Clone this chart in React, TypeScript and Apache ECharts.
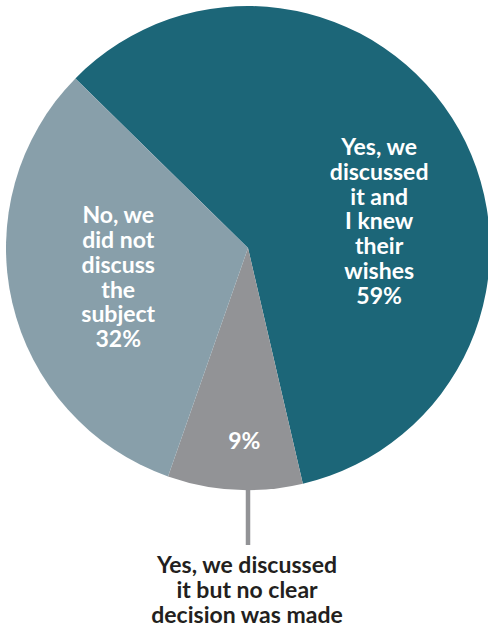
import React, { useEffect, useRef } from "react";
import * as echarts from "echarts";

const categories = [
  "Yes, we discussed it and I knew their wishes",
  "Yes, we discussed it but no clear decision was made",
  "No, we did not discuss the subject",
];
const values = [59, 9, 32];
const insideLabels = [
  "Yes, we\ndiscussed\nit and\nI knew\ntheir\nwishes",
  "",
  "No, we\ndid not\ndiscuss\nthe\nsubject",
];
const outsideLabel = "Yes, we discussed\nit but no clear\ndecision was made";
const colors = ["#1c6678", "#929396", "#889faa"];
const labelOffsets: [number, number][] = [
  [23, 33],
  [3, 68],
  [-9, 0],
];

export default function App() {
  const ref = useRef<HTMLDivElement>(null);
  useEffect(() => {
    if (!ref.current) return;
    const chart = echarts.init(ref.current, null, { renderer: "svg" });
    chart.setOption({
      animation: false,
      backgroundColor: "#ffffff",
      series: [
        {
          type: "pie",
          center: [248, 248],
          radius: 242,
          startAngle: 135.5,
          clockwise: true,
          silent: true,
          itemStyle: { borderWidth: 0 },
          label: {
            show: true,
            position: "inside",
            color: "#ffffff",
            fontFamily: "Lato",
            fontWeight: "bold",
            fontSize: 23,
            lineHeight: 24.8,
            align: "center",
          },
          labelLine: { show: false },
          data: categories.map((name, i) => ({
            name,
            value: values[i],
            itemStyle: { color: colors[i] },
            label: {
              offset: labelOffsets[i],
              formatter: () =>
                (insideLabels[i] ? insideLabels[i] + "\n" : "") + values[i] + "%",
            },
          })),
        },
      ],
      graphic: [
        {
          type: "line",
          shape: { x1: 248, y1: 490, x2: 248, y2: 545 },
          style: { stroke: colors[1], lineWidth: 4.5 },
        },
        {
          type: "text",
          x: 247,
          y: 589,
          style: {
            text: outsideLabel,
            fill: "#231f20",
            font: "bold 23px Lato",
            lineHeight: 24.8,
            align: "center",
            verticalAlign: "middle",
          },
        },
      ],
    });
    return () => chart.dispose();
  }, []);
  return (
    <div
      ref={ref}
      style={{ position: "fixed", left: 0, top: 0, width: 488, height: 627 }}
    />
  );
}
